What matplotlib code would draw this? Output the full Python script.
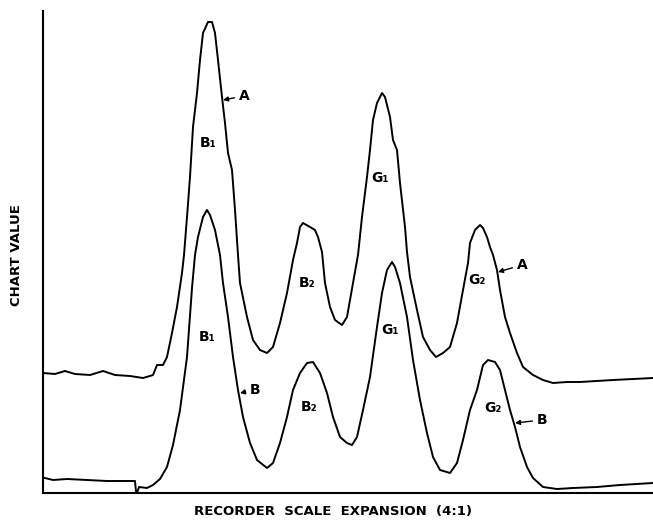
import matplotlib.pyplot as plt

# 曲线 A（上）- 记录仪位置 / 图表值
a_x = [0, 12, 22, 32, 47, 60, 72, 87, 100, 107, 110, 114, 120, 124, 129, 134, 139, 141, 144, 147,
       150, 154, 157, 160, 165, 169, 172, 175, 179, 182, 185, 189, 192, 195, 197, 204, 210, 217, 224, 230,
       237, 244, 250, 254, 257, 260, 267, 272, 275, 279, 282, 287, 292, 299, 304, 310, 315, 319, 324, 327,
       330, 334, 339, 342, 347, 350, 354, 357, 362, 364, 367, 374, 380, 387, 393, 400, 407, 414, 420, 425,
       427, 432, 437, 440, 444, 447, 450, 454, 457, 462, 467, 474, 480, 490, 500, 510, 524, 537, 570, 610]
a_y = [120, 119, 122, 119, 118, 122, 118, 117, 115, 117, 118, 128, 128, 136, 160, 186, 220, 238, 276, 316,
       366, 400, 433, 460, 471, 471, 460, 433, 396, 370, 340, 323, 283, 238, 210, 176, 153, 143, 140, 146,
       170, 200, 233, 250, 266, 270, 266, 263, 256, 241, 210, 186, 173, 168, 176, 210, 238, 276, 316, 343,
       373, 390, 400, 396, 376, 353, 343, 310, 266, 241, 216, 183, 156, 143, 136, 140, 146, 170, 203, 230,
       250, 263, 268, 265, 256, 246, 238, 223, 203, 176, 160, 140, 126, 118, 113, 110, 111, 111, 113, 115]

# 曲线 B（下）
b_x = [2, 10, 24, 44, 64, 92, 93, 94, 96, 104, 110, 117, 124, 130, 137, 144, 149, 152, 155, 160,
       164, 167, 172, 177, 180, 185, 190, 195, 200, 207, 214, 224, 230, 237, 244, 250, 257, 264, 270, 277,
       284, 290, 297, 304, 309, 314, 320, 327, 334, 339, 344, 349, 352, 357, 364, 370, 377, 384, 390, 397,
       407, 414, 420, 427, 434, 440, 445, 452, 457, 462, 467, 472, 477, 484, 490, 500, 514, 530, 554, 577, 610]
b_y = [15, 13, 14, 13, 12, 12, 1, 0, 6, 5, 8, 14, 26, 48, 83, 136, 205, 238, 256, 276,
       283, 278, 263, 238, 210, 176, 136, 103, 76, 50, 33, 25, 30, 50, 76, 103, 120, 130, 131, 120,
       100, 76, 56, 50, 48, 56, 83, 116, 166, 200, 223, 231, 226, 210, 176, 133, 93, 60, 36, 23,
       20, 30, 53, 83, 103, 128, 133, 131, 123, 103, 83, 66, 46, 26, 15, 6, 4, 5, 6, 8, 10]

# 峰标签
peak_labels = ["B₁", "B₁", "B₂", "B₂", "G₁", "G₁", "G₂", "G₂"]
peak_x = [165, 164, 264, 266, 337, 347, 434, 450]
peak_y = [350, 156, 210, 86, 315, 163, 213, 85]

# 曲线名称箭头
curve_names = ["A", "A", "B", "B"]
name_xy = [(201, 397), (479, 228), (212, 103), (499, 73)]
arrow_xy = [(180, 393), (455, 221), (197, 100), (472, 70)]

fig = plt.figure(figsize=(6.53, 5.30), dpi=100)
ax = fig.add_axes([43 / 653, 37 / 530, 610 / 653, 482 / 530])

ax.plot(a_x, a_y, color="black", lw=1.4)
ax.plot(b_x, b_y, color="black", lw=1.4)

for lab, x, y in zip(peak_labels, peak_x, peak_y):
    ax.text(x, y, lab, ha="center", va="center", fontsize=10, fontweight="bold")

for name, txy, hxy in zip(curve_names, name_xy, arrow_xy):
    ax.annotate(name, xy=hxy, xytext=txy, ha="center", va="center",
                fontsize=10, fontweight="bold",
                arrowprops=dict(arrowstyle="-|>", lw=1.0, color="black", mutation_scale=7,
                                shrinkA=1, shrinkB=0))

ax.set_xlim(0, 610)
ax.set_ylim(0, 482)
ax.set_xticks([])
ax.set_yticks([])
ax.spines["top"].set_visible(False)
ax.spines["right"].set_visible(False)
ax.spines["left"].set_linewidth(1.5)
ax.spines["bottom"].set_linewidth(1.5)

fig.text(17 / 653, 1 - 255 / 530, "CHART VALUE", rotation=90, ha="center", va="center",
         fontsize=9.5, fontweight="bold")
fig.text(333 / 653, 1 - 511 / 530, "RECORDER  SCALE  EXPANSION  (4:1)", ha="center", va="center",
         fontsize=9.5, fontweight="bold")

plt.savefig("out.png", dpi=100)
